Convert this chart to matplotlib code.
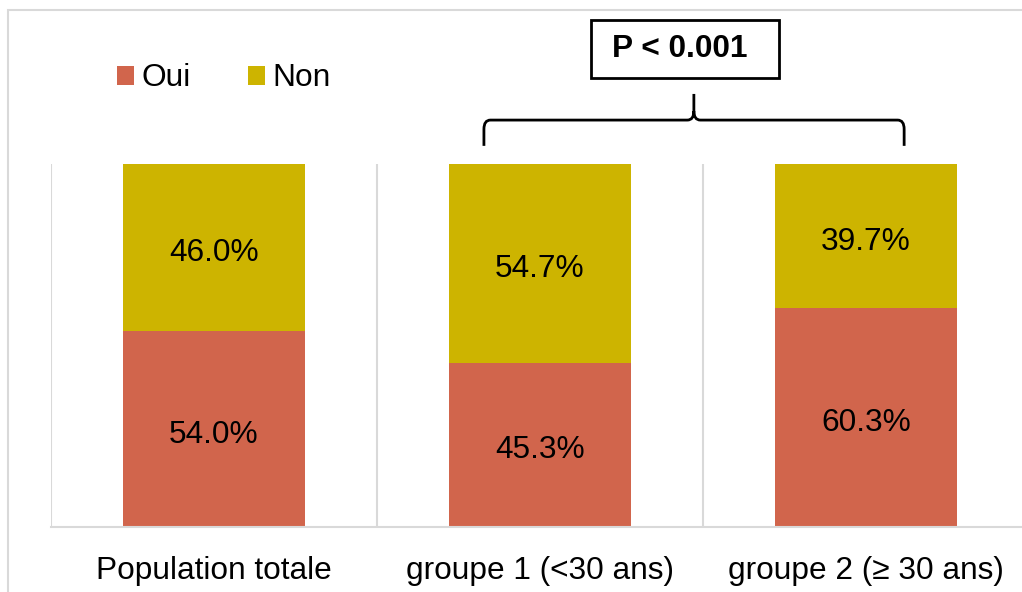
import numpy as np
import matplotlib
matplotlib.use('Agg')
import matplotlib.pyplot as plt
from matplotlib.patches import Rectangle, PathPatch
from matplotlib.path import Path

plt.rcParams['font.family'] = ['Liberation Sans', 'DejaVu Sans']

categories = ['Population totale', 'groupe 1 (<30 ans)', 'groupe 2 (\u2265 30 ans)']
oui = [54.0, 45.3, 60.3]
non = [46.0, 54.7, 39.7]
series_names = ['Oui', 'Non']
p_label = 'P < 0.001'

c_oui = '#D1654C'
c_non = '#CDB400'
grid_c = '#D9D9D9'
fs = 22.8

fig = plt.figure(figsize=(10.22, 5.92), dpi=100)
ax = fig.add_axes([51 / 1022, 1 - 527 / 592, 978 / 1022, 363 / 592])

x = np.arange(len(categories))
oui_f = np.array(oui) / 100
non_f = np.array(non) / 100
b1 = ax.bar(x, oui_f, width=0.56, color=c_oui, label=series_names[0], zorder=2)
b2 = ax.bar(x, non_f, width=0.56, bottom=oui_f, color=c_non, label=series_names[1], zorder=2)

# value labels, nudged down a little like the Excel ones
for i in range(len(x)):
    ax.annotate(f'{oui[i]:.1f}%', (x[i], oui_f[i] / 2), xytext=(0, -4), textcoords='offset points',
                ha='center', va='center', fontsize=fs)
    ax.annotate(f'{non[i]:.1f}%', (x[i], oui_f[i] + non_f[i] / 2), xytext=(0, -4),
                textcoords='offset points', ha='center', va='center', fontsize=fs)

ax.set_xlim(-0.5, 2.5)
ax.set_ylim(0, 1)
for sep in [-0.5, 0.5, 1.5, 2.5]:
    ax.axvline(sep, color=grid_c, lw=1.5, zorder=1)
for s in ['top', 'right', 'left']:
    ax.spines[s].set_visible(False)
ax.spines['bottom'].set_color(grid_c)
ax.spines['bottom'].set_linewidth(1.5)
ax.set_yticks([])
ax.set_xticks(x)
ax.set_xticklabels(categories, fontsize=fs)
ax.tick_params(axis='x', length=0, pad=21)

# brace between the two groups
x0, x1, xc = 0.828, 2.117, 1.472
y_end, y_h, y_top = 1.05, 1.121, 1.193
rx, ry = 0.02, 0.025
verts = [(x0, y_end), (x0, y_h - ry), (x0, y_h), (x0 + rx, y_h),
         (xc - rx, y_h), (xc, y_h), (xc, y_h + ry), (xc, y_top),
         (xc, y_h + ry), (xc, y_h), (xc + rx, y_h),
         (x1 - rx, y_h), (x1, y_h), (x1, y_h - ry), (x1, y_end)]
codes = [Path.MOVETO, Path.LINETO, Path.CURVE3, Path.CURVE3,
         Path.LINETO, Path.CURVE3, Path.CURVE3, Path.LINETO,
         Path.MOVETO, Path.CURVE3, Path.CURVE3,
         Path.LINETO, Path.CURVE3, Path.CURVE3, Path.LINETO]
ax.add_patch(PathPatch(Path(verts, codes), fill=False, lw=2, color='black', clip_on=False))

ax.add_patch(Rectangle((1.156, 1.237), 0.577, 0.16, fill=False, lw=2, ec='black', clip_on=False))
ax.text(1.429, 1.317, p_label, ha='center', va='center', fontsize=fs, fontweight='bold')

# outer frame
fig.patches.append(Rectangle((8 / 1022, -0.1), 1.2, 1 - 9.5 / 592 + 0.1, transform=fig.transFigure,
                             fill=False, ec=grid_c, lw=1.5))

fig.legend(handles=[b1, b2], loc='center left', bbox_to_anchor=(117 / 1022, 1 - 78.5 / 592),
           ncol=2, frameon=False, fontsize=fs, borderpad=0, borderaxespad=0,
           handlelength=0.53, handleheight=0.53, handletextpad=0.25, columnspacing=1.8)

fig.savefig('out.png', dpi=100)
